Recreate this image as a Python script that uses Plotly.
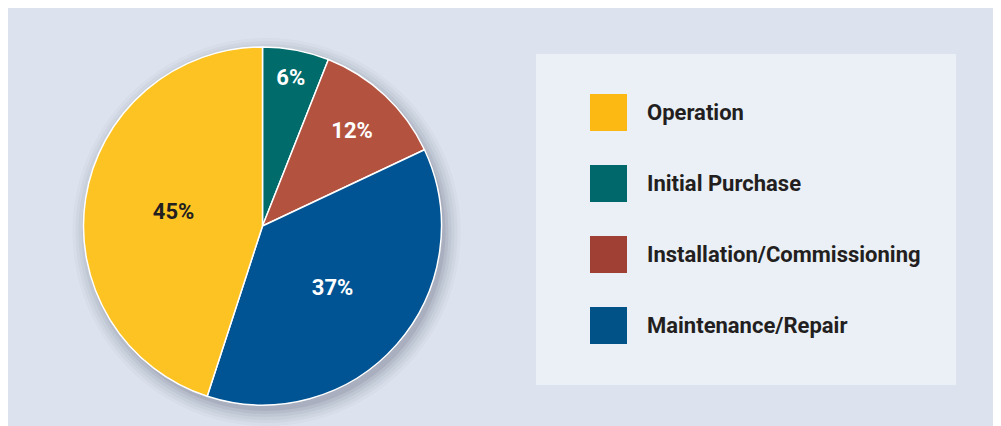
import plotly.graph_objects as go

# ---- data ----
slice_labels = ["Initial Purchase", "Installation/Commissioning", "Maintenance/Repair", "Operation"]
slice_values = [6, 12, 37, 45]
slice_colors = ["#006B6B", "#B3523F", "#005494", "#FDC323"]
slice_text_colors = ["#FFFFFF", "#FFFFFF", "#FFFFFF", "#231F20"]

legend_labels = ["Operation", "Initial Purchase", "Installation/Commissioning", "Maintenance/Repair"]
legend_colors = ["#FDB913", "#00676A", "#A03F33", "#005287"]

# page has an 8px body margin, so the figure fills the rest of the 1001x426 window
W, H = 993, 418
FONT = "Roboto, Liberation Sans Narrow, Arial, sans-serif"

fig = go.Figure()

cx, cy, r = 254.5, 218, 179
px = lambda x: x / W
py = lambda y: 1 - y / H

fig.add_trace(go.Pie(
    labels=slice_labels,
    values=slice_values,
    sort=False,
    direction="clockwise",
    rotation=0,
    marker=dict(colors=slice_colors, line=dict(color="#FFFFFF", width=1.5)),
    texttemplate="%{percent:.0%}",
    textposition="inside",
    insidetextorientation="horizontal",
    textfont=dict(family=FONT, size=22, color=slice_text_colors, weight=700),
    domain=dict(x=[px(cx - r), px(cx + r)], y=[py(cy + r), py(cy - r)]),
    showlegend=False,
    hoverinfo="label+percent",
))

shapes = []
# soft shadow behind the pie
for i, a in enumerate([0.03, 0.04, 0.05, 0.06, 0.08, 0.10]):
    rr = r + 15 - i * 3
    shapes.append(dict(type="circle", xref="paper", yref="paper",
                       x0=px(cx - rr + 4), x1=px(cx + rr + 4),
                       y0=py(cy + rr + 6), y1=py(cy - rr + 6),
                       fillcolor=f"rgba(60,70,90,{a})", line=dict(width=0), layer="below"))
# legend box
shapes.append(dict(type="rect", xref="paper", yref="paper", x0=px(528), x1=px(948), y0=py(377), y1=py(46),
                   fillcolor="#EBF0F7", line=dict(width=0), layer="below"))

annotations = []
top0, step, sq = 86, 71, 37
for i, (lab, col) in enumerate(zip(legend_labels, legend_colors)):
    y0 = top0 + i * step
    shapes.append(dict(type="rect", xref="paper", yref="paper", x0=px(582), x1=px(619),
                       y0=py(y0 + sq), y1=py(y0), fillcolor=col, line=dict(width=0)))
    annotations.append(dict(xref="paper", yref="paper", x=px(637), y=py(y0 + sq / 2),
                            xanchor="left", yanchor="middle", showarrow=False,
                            text=lab,
                            font=dict(family=FONT, size=22, color="#231F20", weight=700)))

fig.update_layout(
    width=W, height=H,
    margin=dict(l=0, r=0, t=0, b=0),
    paper_bgcolor="#DCE3EE",
    plot_bgcolor="#DCE3EE",
    shapes=shapes,
    annotations=annotations,
)

fig.write_html("out.html")
